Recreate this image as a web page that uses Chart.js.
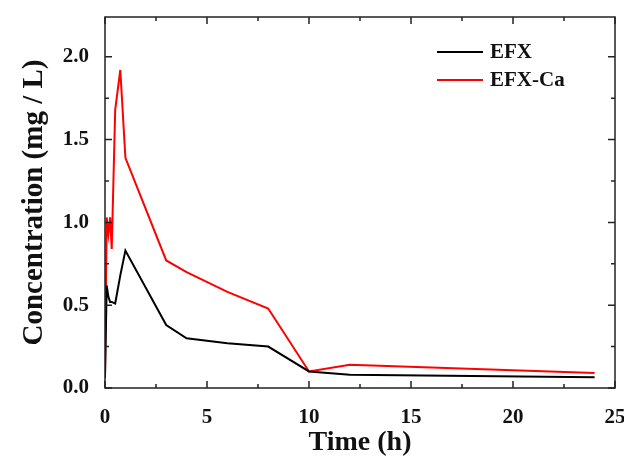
<!DOCTYPE html>
<html lang="en">
<head>
    <meta charset="UTF-8">
    <title>EFX concentration vs time</title>
    <script src="https://cdn.jsdelivr.net/npm/chart.js"></script>
    <style>
        html, body { margin: 0; padding: 0; background: #fff; }
        #wrap { width: 624px; height: 462px; }
    </style>
</head>
<body>
    <div id="wrap"><canvas id="pkChart" width="624" height="462"></canvas></div>

    <script>
        // sampling times (h)
        const times = [0, 0.083, 0.167, 0.25, 0.33, 0.5, 0.75, 1, 3, 4, 6, 8, 10, 12, 24];
        // concentrations (mg / L)
        const efx   = [0.06, 0.62, 0.55, 0.52, 0.52, 0.51, 0.68, 0.83, 0.38, 0.30, 0.27, 0.25, 0.10, 0.08, 0.065];
        const efxCa = [0.07, 1.03, 0.93, 1.03, 0.84, 1.68, 1.92, 1.39, 0.77, 0.70, 0.58, 0.48, 0.10, 0.14, 0.09];

        const xTicks = [0, 5, 10, 15, 20, 25];
        const yTicks = [0, 0.5, 1.0, 1.5, 2.0];

        const serif = '"Liberation Serif", "Times New Roman", serif';

        function toPoints(ys) {
            return times.map((t, i) => ({ x: t, y: ys[i] }));
        }

        // 박스 테두리 + 안쪽 눈금
        const framePlugin = {
            id: 'frame',
            afterDraw(chart) {
                const { ctx, chartArea: a, scales: { x, y } } = chart;
                ctx.save();
                ctx.strokeStyle = '#222';
                ctx.lineWidth = 1.5;
                ctx.strokeRect(a.left, a.top, a.right - a.left, a.bottom - a.top);
                ctx.beginPath();
                const xs = [];
                xTicks.forEach((v, i) => {
                    xs.push([v, 7]);
                    if (i < xTicks.length - 1) xs.push([(v + xTicks[i + 1]) / 2, 4]);
                });
                xs.forEach(([v, len]) => {
                    const px = x.getPixelForValue(v);
                    ctx.moveTo(px, a.bottom); ctx.lineTo(px, a.bottom - len);
                    ctx.moveTo(px, a.top); ctx.lineTo(px, a.top + len);
                });
                const ys = [];
                yTicks.forEach(v => {
                    ys.push([v, 7]);
                    ys.push([v + 0.25, 4]);
                });
                ys.forEach(([v, len]) => {
                    const py = y.getPixelForValue(v);
                    if (py < a.top) return;
                    ctx.moveTo(a.left, py); ctx.lineTo(a.left + len, py);
                    ctx.moveTo(a.right, py); ctx.lineTo(a.right - len, py);
                });
                ctx.stroke();
                ctx.restore();
            }
        };

        const legendPlugin = {
            id: 'boxLegend',
            afterDraw(chart) {
                const { ctx } = chart;
                ctx.save();
                ctx.font = 'bold 21px ' + serif;
                ctx.textBaseline = 'middle';
                chart.data.datasets.forEach((ds, i) => {
                    const yy = 52 + i * 28;
                    ctx.strokeStyle = ds.borderColor;
                    ctx.lineWidth = 2;
                    ctx.beginPath();
                    ctx.moveTo(437, yy); ctx.lineTo(483, yy);
                    ctx.stroke();
                    ctx.fillStyle = '#111';
                    ctx.fillText(ds.label, 490, yy + 1);
                });
                ctx.restore();
            }
        };

        const chart = new Chart(document.getElementById('pkChart'), {
            type: 'line',
            data: {
                datasets: [
                    { label: 'EFX', data: toPoints(efx), borderColor: '#000000', borderWidth: 2 },
                    { label: 'EFX-Ca', data: toPoints(efxCa), borderColor: '#ff0000', borderWidth: 2 }
                ]
            },
            options: {
                responsive: false,
                animation: false,
                events: [],
                layout: { padding: { left: 0, top: 17, right: 9, bottom: 0 } },
                elements: { point: { radius: 0 }, line: { tension: 0, fill: false } },
                plugins: { legend: { display: false }, tooltip: { enabled: false } },
                scales: {
                    x: {
                        type: 'linear', min: 0, max: 25,
                        afterBuildTicks: s => { s.ticks = xTicks.map(v => ({ value: v })); },
                        afterFit: s => { s.height = 74; s.paddingLeft = 0; s.paddingRight = 0; },
                        grid: { display: false },
                        border: { display: false },
                        ticks: { color: '#111', padding: 9, font: { family: serif, size: 21, weight: 'bold' } },
                        title: { display: true, text: 'Time (h)', color: '#111', padding: { top: 0, bottom: 2 },
                                 font: { family: serif, size: 28, weight: 'bold' } }
                    },
                    y: {
                        type: 'linear', min: 0, max: 2.24,
                        afterBuildTicks: s => { s.ticks = yTicks.map(v => ({ value: v })); },
                        afterFit: s => { s.width = 105; s.paddingTop = 0; s.paddingBottom = 0; },
                        grid: { display: false },
                        border: { display: false },
                        ticks: { color: '#111', padding: 8, callback: v => v.toFixed(1),
                                 font: { family: serif, size: 21, weight: 'bold' } },
                        title: { display: true, text: 'Concentration (mg / L)', color: '#111', padding: { top: 17, bottom: 0 },
                                 font: { family: serif, size: 29, weight: 'bold' } }
                    }
                }
            },
            plugins: [framePlugin, legendPlugin]
        });
    </script>
</body>
</html>
